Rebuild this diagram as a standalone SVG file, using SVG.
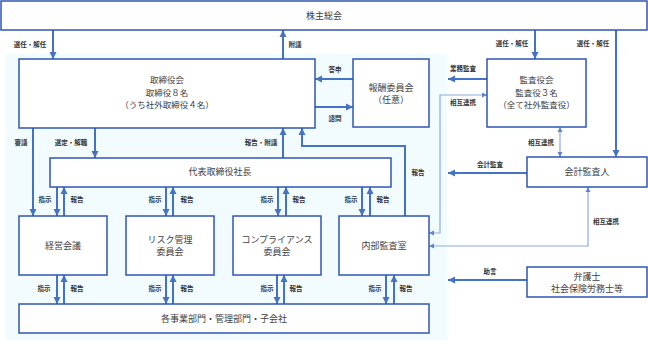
<svg xmlns="http://www.w3.org/2000/svg" width="648" height="342" viewBox="0 0 648 342">
<style>
.box{fill:#fff;stroke:#2F55B4;stroke-width:1.5}
.t{font-family:"Noto Sans CJK JP","Noto Sans CJK SC",sans-serif;font-size:9px;fill:#404040;text-anchor:middle}
.s{font-size:8.5px}
.l{font-family:"Noto Sans CJK JP","Noto Sans CJK SC",sans-serif;font-size:6.5px;font-weight:bold;fill:#333;text-anchor:middle}
.a{fill:none;stroke:#4472C4;stroke-width:2;marker-end:url(#ah)}
.th{fill:none;stroke:#8EAADB;stroke-width:1.2;marker-end:url(#at);marker-start:url(#at)}
</style>
<defs>
<marker id="ah" markerUnits="userSpaceOnUse" markerWidth="8" markerHeight="8" refX="7" refY="4" orient="auto"><path d="M0,0.5 L7,4 L0,7.5 z" fill="#4472C4"/></marker>
<marker id="at" markerUnits="userSpaceOnUse" markerWidth="6" markerHeight="6" refX="5" refY="3" orient="auto-start-reverse"><path d="M0,0.5 L5,3 L0,5.5 z" fill="#5B85D0"/></marker>
</defs>
<rect x="5" y="54" width="442" height="286" fill="#F2FCFF"/>

<g id="connectors">
<line class="a" x1="53" y1="30" x2="53" y2="59"/>
<line class="a" x1="283" y1="59" x2="283" y2="30"/>
<line class="a" x1="353" y1="79" x2="315" y2="79"/>
<line class="a" x1="315" y1="107" x2="353" y2="107"/>
<line class="a" x1="535" y1="30" x2="535" y2="59"/>
<line class="a" x1="616" y1="30" x2="616" y2="157"/>
<line class="a" x1="487" y1="79" x2="448" y2="79"/>
<path class="th" d="M487,95 H440 V233 H429"/>
<path class="th" d="M560,127 V157"/>
<path class="th" d="M588,187 V246 H429"/>
<line class="a" x1="527" y1="173" x2="448" y2="173"/>
<line class="a" x1="527" y1="280" x2="448" y2="280"/>
<line class="a" x1="33" y1="128" x2="33" y2="216"/>
<line class="a" x1="95" y1="128" x2="95" y2="158"/>
<line class="a" x1="283" y1="158" x2="283" y2="128"/>
<path class="a" d="M405,216 V146 H302 V128"/>
<line class="a" x1="57" y1="187" x2="57" y2="216"/>
<line class="a" x1="64" y1="216" x2="64" y2="187"/>
<line class="a" x1="166" y1="187" x2="166" y2="216"/>
<line class="a" x1="173" y1="216" x2="173" y2="187"/>
<line class="a" x1="278" y1="187" x2="278" y2="216"/>
<line class="a" x1="286" y1="216" x2="286" y2="187"/>
<line class="a" x1="362" y1="187" x2="362" y2="216"/>
<line class="a" x1="370" y1="216" x2="370" y2="187"/>
<line class="a" x1="57" y1="275" x2="57" y2="304"/>
<line class="a" x1="64" y1="304" x2="64" y2="275"/>
<line class="a" x1="166" y1="275" x2="166" y2="304"/>
<line class="a" x1="173" y1="304" x2="173" y2="275"/>
<line class="a" x1="277" y1="275" x2="277" y2="304"/>
<line class="a" x1="284" y1="304" x2="284" y2="275"/>
<line class="a" x1="386" y1="275" x2="386" y2="304"/>
<line class="a" x1="394" y1="304" x2="394" y2="275"/>
<text class="l" x="30" y="47">選任・解任</text>
<text class="l" x="295" y="47">附議</text>
<text class="l" x="335" y="72">答申</text>
<text class="l" x="335" y="121">諮問</text>
<text class="l" x="463" y="71">業務監査</text>
<text class="l" x="463" y="105">相互連携</text>
<text class="l" x="512" y="46">選任・解任</text>
<text class="l" x="593" y="46">選任・解任</text>
<text class="l" x="21" y="145">審議</text>
<text class="l" x="71" y="145">選定・解職</text>
<text class="l" x="261" y="145">報告・附議</text>
<text class="l" x="418" y="175">報告</text>
<text class="l" x="541" y="145">相互連携</text>
<text class="l" x="490" y="167">会計監査</text>
<text class="l" x="606" y="224">相互連携</text>
<text class="l" x="490" y="274">助言</text>
<text class="l" x="45" y="202">指示</text>
<text class="l" x="77" y="202">報告</text>
<text class="l" x="155" y="202">指示</text>
<text class="l" x="187" y="202">報告</text>
<text class="l" x="267" y="202">指示</text>
<text class="l" x="299" y="202">報告</text>
<text class="l" x="351" y="202">指示</text>
<text class="l" x="383" y="202">報告</text>
<text class="l" x="44" y="291">指示</text>
<text class="l" x="77" y="291">報告</text>
<text class="l" x="155" y="291">指示</text>
<text class="l" x="187" y="291">報告</text>
<text class="l" x="267" y="291">指示</text>
<text class="l" x="296" y="291">報告</text>
<text class="l" x="375" y="291">指示</text>
<text class="l" x="406" y="291">報告</text>
</g>

<g id="shareholders"><rect class="box" x="1" y="1" width="646" height="29"/><text class="t" x="324" y="19">株主総会</text></g>
<g id="board"><rect class="box" x="19" y="59" width="296" height="69"/><text class="t s" x="167" y="83">取締役会</text><text class="t s" x="167" y="95.5">取締役８名</text><text class="t s" x="167" y="108">（うち社外取締役４名）</text></g>
<g id="remuneration"><rect class="box" x="353" y="59" width="76" height="68"/><text class="t" x="391" y="91">報酬委員会</text><text class="t" x="391" y="103">（任意）</text></g>
<g id="auditors"><rect class="box" x="487" y="59" width="99" height="68"/><text class="t s" x="536.5" y="83">監査役会</text><text class="t s" x="536.5" y="95.5">監査役３名</text><text class="t s" x="536.5" y="108">（全て社外監査役）</text></g>
<g id="accounting"><rect class="box" x="527" y="157" width="120" height="30"/><text class="t" x="587" y="175">会計監査人</text></g>
<g id="president"><rect class="box" x="50" y="158" width="341" height="29"/><text class="t" x="220" y="175">代表取締役社長</text></g>
<g id="management"><rect class="box" x="19" y="216" width="88" height="59"/><text class="t" x="63" y="249">経営会議</text></g>
<g id="risk"><rect class="box" x="126" y="216" width="88" height="59"/><text class="t" x="170" y="243">リスク管理</text><text class="t" x="170" y="255">委員会</text></g>
<g id="compliance"><rect class="box" x="233" y="216" width="88" height="59"/><text class="t" x="277" y="243">コンプライアンス</text><text class="t" x="277" y="255">委員会</text></g>
<g id="internal"><rect class="box" x="339" y="216" width="90" height="59"/><text class="t" x="384" y="249">内部監査室</text></g>
<g id="divisions"><rect class="box" x="19" y="304" width="410" height="29"/><text class="t" x="224" y="322">各事業部門・管理部門・子会社</text></g>
<g id="lawyers"><rect class="box" x="527" y="267" width="120" height="30"/><text class="t" x="587" y="280">弁護士</text><text class="t" x="587" y="292">社会保険労務士等</text></g>
</svg>
